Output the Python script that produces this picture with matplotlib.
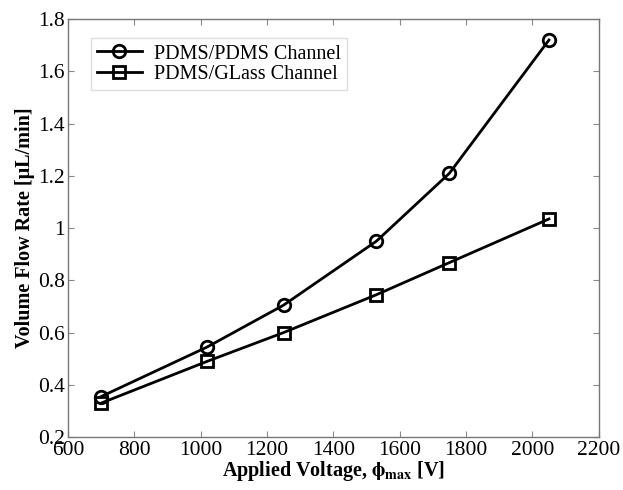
import matplotlib
matplotlib.use("Agg")
import matplotlib.pyplot as plt

# Data
voltage = [700, 1020, 1250, 1530, 1750, 2050]
pdms_pdms = [0.355, 0.545, 0.705, 0.950, 1.210, 1.720]
pdms_glass = [0.330, 0.490, 0.600, 0.745, 0.868, 1.035]

plt.rcParams['font.family'] = ['Liberation Serif', 'DejaVu Serif']
plt.rcParams['mathtext.fontset'] = 'stix'

fig = plt.figure(figsize=(6.23, 4.9), dpi=100)
ax = fig.add_axes([0.109, 0.108, 0.852, 0.853])

ax.plot(voltage, pdms_pdms, '-o', color='black', lw=2, ms=9, mfc='none', mew=2,
        label='PDMS/PDMS Channel')
ax.plot(voltage, pdms_glass, '-s', color='black', lw=2, ms=8, mfc='none', mew=2,
        label='PDMS/GLass Channel')

ax.set_xlim(600, 2200)
ax.set_ylim(0.2, 1.8)
ax.set_xticks(range(600, 2201, 200))
ax.set_yticks([0.2, 0.4, 0.6, 0.8, 1.0, 1.2, 1.4, 1.6, 1.8])
ax.set_yticklabels(['0.2', '0.4', '0.6', '0.8', '1', '1.2', '1.4', '1.6', '1.8'])

ax.tick_params(direction='in', top=True, right=True, length=4, width=0.8,
               color='#888888', labelsize=15.5)
ax.tick_params(axis='x', pad=3)
ax.tick_params(axis='y', pad=2)
for s in ax.spines.values():
    s.set_color('#777777')
    s.set_linewidth(1)

ax.set_xlabel(r'Applied Voltage, $\mathbf{\phi_{max}}$ [V]', fontsize=14.5,
              fontweight='bold', labelpad=-1)
ax.set_ylabel('Volume Flow Rate [μL/min]', fontsize=14.5, fontweight='bold', labelpad=2)

leg = ax.legend(loc='upper left', fontsize=14.5, fancybox=False, framealpha=1,
                edgecolor='#dddddd', handlelength=2.2, borderpad=0.3,
                labelspacing=0.05, handletextpad=0.6, bbox_to_anchor=(0.025, 0.978))

fig.savefig('out.png', dpi=100)
